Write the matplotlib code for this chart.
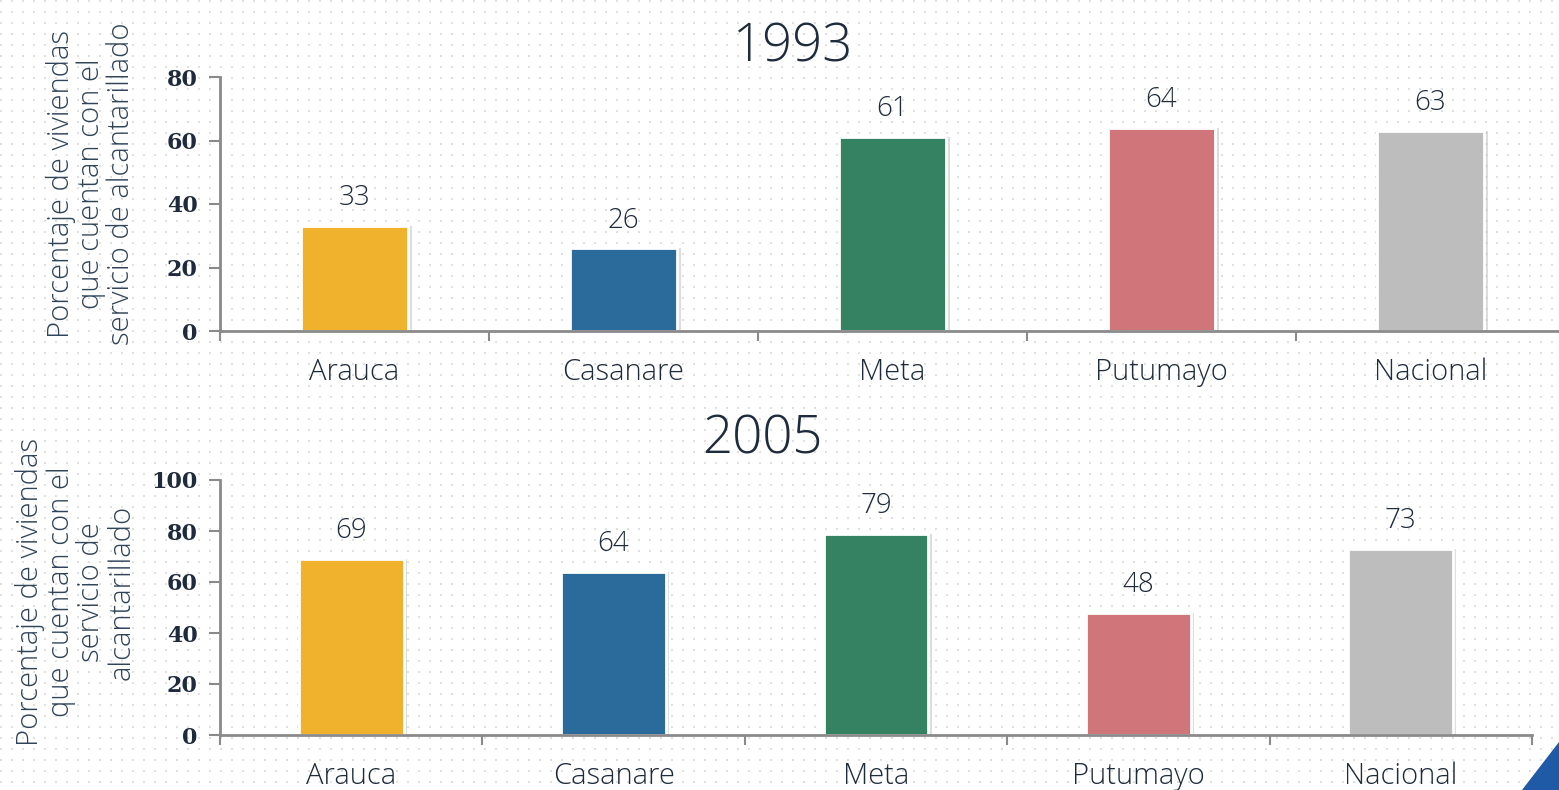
import numpy as np
import matplotlib
matplotlib.use("Agg")
import matplotlib.pyplot as plt
from matplotlib.patches import Polygon

categories = ["Arauca", "Casanare", "Meta", "Putumayo", "Nacional"]
values_1993 = [33, 26, 61, 64, 63]
values_2005 = [69, 64, 79, 48, 73]
colors = ["#F0B12C", "#2A6B9C", "#358263", "#D0767A", "#BDBDBD"]

W, H, DPI = 1559, 790, 100
fig = plt.figure(figsize=(W / DPI, H / DPI), dpi=DPI)
fig.patch.set_facecolor("white")

# dotted background texture
bg = fig.add_axes([0, 0, 1, 1], zorder=-10)
img = np.ones((H, W, 3))
yy, xx = np.mgrid[0:H, 0:W]
mask = ((xx % 11) < 2) & ((yy % 11) < 2)
img[mask] = [0.88, 0.88, 0.88]
bg.imshow(img, aspect="auto", interpolation="nearest")
bg.axis("off")

text_col = "#1E2B3C"
lab_col = "#2F4358"
spine_col = "#8A8A8A"
sans = "Open Sans"


def make_panel(rect, vals, ymax, step, title, title_xy):
    ax = fig.add_axes(rect)
    ax.patch.set_alpha(0)
    x = np.arange(len(categories))
    # shadow
    ax.bar(x + 0.012, vals, width=0.40, color="#00000022", zorder=1)
    ax.bar(x, vals, width=0.40, color=colors, edgecolor="white", linewidth=2, zorder=2)
    ax.set_xlim(-0.5, len(categories) - 0.5)
    ax.set_ylim(0, ymax)
    ax.set_yticks(np.arange(0, ymax + 1, step))
    ax.set_yticklabels([str(v) for v in np.arange(0, ymax + 1, step)],
                       fontfamily="DejaVu Serif", fontweight="bold",
                       fontsize=16, color=text_col)
    ax.set_xticks(x)
    ax.set_xticklabels(categories, fontfamily=sans, fontweight="light",
                       fontsize=21, color=text_col)
    ax.set_xticks(np.arange(-0.5, len(categories) + 0.5, 1), minor=True)
    ax.tick_params(axis="x", which="major", length=0, pad=19)
    ax.tick_params(axis="x", which="minor", length=7, width=1.5, color=spine_col, direction="out")
    ax.tick_params(axis="y", length=8, width=1.5, color=spine_col, pad=8)
    for s in ["top", "right"]:
        ax.spines[s].set_visible(False)
    for s in ["left", "bottom"]:
        ax.spines[s].set_color(spine_col)
        ax.spines[s].set_linewidth(2)
    for xi, v in zip(x, vals):
        ax.annotate(str(v), (xi, v), xytext=(0, 10), textcoords="offset points",
                    ha="center", va="bottom", fontfamily=sans, fontweight="light",
                    fontsize=20, color=text_col)
    fig.text(title_xy[0], title_xy[1], title, ha="center", va="center",
             fontfamily=sans, fontweight="light", fontsize=38, color=text_col)
    return ax


ax1 = make_panel([220 / W, 1 - 331 / H, 1345 / W, 254 / H], values_1993, 80, 20,
                 "1993", (793 / W, 1 - 48 / H))
ax2 = make_panel([220 / W, 1 - 735 / H, 1312 / W, 255 / H], values_2005, 100, 20,
                 "2005", (762 / W, 1 - 440 / H))

fig.text(91 / W, 1 - 184 / H,
         "Porcentaje de viviendas\nque cuentan con el\nservicio de alcantarillado",
         rotation=90, ha="center", va="center", ma="center", fontfamily=sans,
         fontweight="light", fontsize=21, color=lab_col, linespacing=1.04)
fig.text(76 / W, 1 - 592 / H,
         "Porcentaje de viviendas\nque cuentan con el\nservicio de\nalcantarillado",
         rotation=90, ha="center", va="center", ma="center", fontfamily=sans,
         fontweight="light", fontsize=21, color=lab_col, linespacing=1.04)

# decorative corner shape
corner = Polygon([[1522 / W, 0], [1559 / W, 0], [1559 / W, 48 / H]], closed=True,
                 transform=fig.transFigure, color="#1F5AA6", zorder=5)
fig.patches.append(corner)

fig.savefig("out.png", dpi=DPI)
